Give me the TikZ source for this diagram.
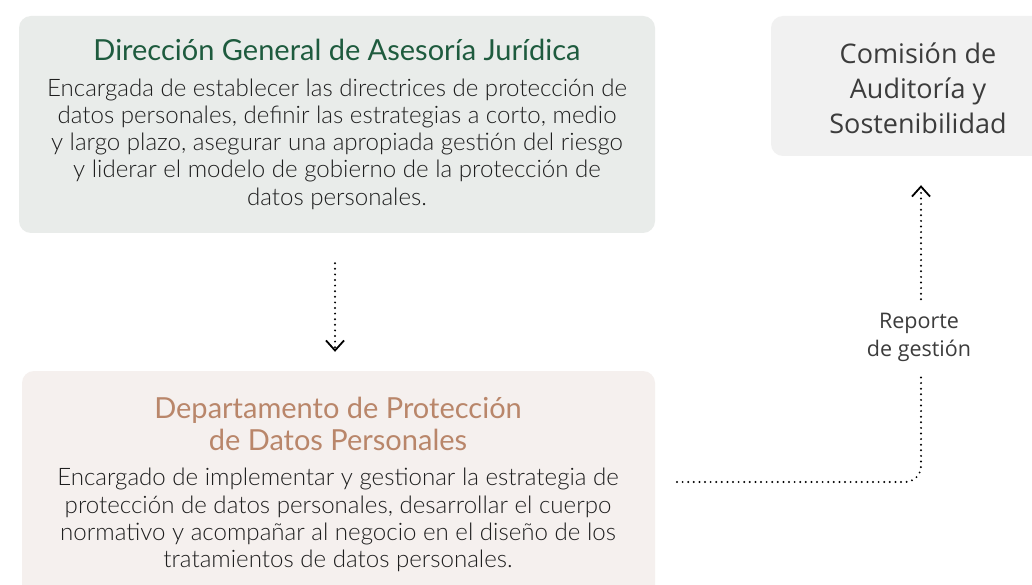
\documentclass[tikz,border=0pt]{standalone}
\usepackage{fontspec}
\setmainfont{Lato Light}
\newfontfamily\titlefont{Lato}
\newfontfamily\labelfont{Open Sans}
\usetikzlibrary{arrows.meta,calc}
\definecolor{dirfill}{HTML}{E9ECEA}
\definecolor{dirtitle}{HTML}{1E5B3E}
\definecolor{depfill}{HTML}{F5F0EE}
\definecolor{deptitle}{HTML}{B9866A}
\definecolor{comfill}{HTML}{F1F1F1}
\definecolor{bodytext}{HTML}{1E1E1E}
\definecolor{comtext}{HTML}{3C3C3C}
\tikzset{
  boxshape/.style={rounded corners=12pt, draw=none, inner sep=0pt},
  titletext/.style={font=\titlefont\fontsize{29}{32}\selectfont, align=center, inner sep=0pt},
  bodytxt/.style={font=\fontsize{24.1}{27.2}\selectfont, align=center, inner sep=0pt, text=bodytext},
  conn/.style={line width=2.2pt, dash pattern=on 0pt off 5.6pt, line cap=round, black},
  tip/.style={-{Straight Barb[length=10pt,width=18pt,line width=1.8pt]}}
}
\begin{document}
\begin{tikzpicture}[x=1pt,y=-1pt]
\clip (0,0) rectangle (1032,585);
\fill[white] (0,0) rectangle (1032,585);
% boxes
\node[boxshape, fill=dirfill, minimum width=636pt, minimum height=217pt] (dir) at (337,124.5) {};
\node[boxshape, fill=depfill, minimum width=633pt, minimum height=240pt] (dep) at (338.5,491) {};
\node[boxshape, fill=comfill, minimum width=300pt, minimum height=140pt] (com) at (921,86) {};
% texts
\node[titletext, text=dirtitle] (dirT) at (337,50) {Dirección General de Asesoría Jurídica};
\node[bodytxt] (dirB) at (337,144) {Encargada de establecer las directrices de protección de\\datos personales, definir las estrategias a corto, medio\\y largo plazo, asegurar una apropiada gestión del riesgo\\y liderar el modelo de gobierno de la protección de\\datos personales.};
\node[titletext, text=deptitle] (depT) at (338,424) {Departamento de Protección\\de Datos Personales};
\node[bodytxt] (depB) at (338,520) {Encargado de implementar y gestionar la estrategia de\\protección de datos personales, desarrollar el cuerpo\\normativo y acompañar al negocio en el diseño de los\\tratamientos de datos personales.};
\node[font=\labelfont\fontsize{27}{35}\selectfont, text=comtext, align=center, inner sep=0pt] (comT) at (918,88) {Comisión de\\Auditoría y\\Sostenibilidad};
% label
\node[font=\labelfont\fontsize{21.5}{28}\selectfont, text=comtext, align=center, inner sep=0pt, minimum height=75pt] (lab) at (919,337) {Reporte\\de gestión};
% connectors
\draw[conn, tip, shorten <=30pt, shorten >=19pt] (dir.south -| 335,0) -- (dep.north -| 335,0);
\coordinate (s) at (677,482);
\draw[conn, rounded corners=16pt] (s) -| (lab.south -| 921,0);
\draw[conn, tip, shorten >=29pt] (lab.north -| 921,0) -- (com.south -| 921,0);
\end{tikzpicture}
\end{document}
